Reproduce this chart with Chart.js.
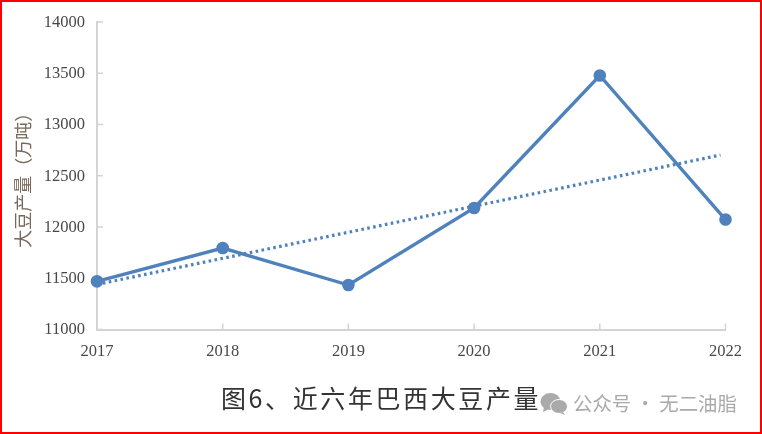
<!DOCTYPE html>
<html><head><meta charset="utf-8">
<script src="https://cdn.jsdelivr.net/npm/chart.js@4"></script>
<style>
html,body{margin:0;padding:0;background:#fff}
#wrap{position:relative;width:762px;height:434px;overflow:hidden}
#frame{position:absolute;inset:0;border:2px solid #f00;box-sizing:border-box;pointer-events:none}
#cap{position:absolute;left:221px;top:381px;font:400 25px "Noto Sans CJK SC";color:#333;letter-spacing:2.6px;white-space:nowrap;line-height:32px}
#wm{position:absolute;left:573px;top:389px;font:400 19.4px "Noto Sans CJK SC";color:#aaa;white-space:nowrap;line-height:28px}
#ic{position:absolute;left:540px;top:392px}
canvas{position:absolute;left:0;top:0}
</style></head><body>
<div id="wrap">
<canvas id="c" width="762" height="434"></canvas>
<div id="cap">图6、近六年巴西大豆产量</div>
<svg id="ic" width="28" height="24" viewBox="0 0 28 24"><ellipse cx="10.5" cy="9.5" rx="10" ry="8.5" fill="#aaa"/><path d="M4 15l-1 5 6-3z" fill="#aaa"/><ellipse cx="19" cy="14.5" rx="8.5" ry="7" fill="#aaa" stroke="#fff" stroke-width="1"/><path d="M23 20l2 3-5-2z" fill="#aaa"/></svg>
<div id="wm">公众号 · 无二油脂</div>
<div id="frame"></div>
</div>
<script>
const years = [2017, 2018, 2019, 2020, 2021, 2022];
const production = [11470, 11795, 11434, 12185, 13478, 12073];
const trendX = [2017, 2021.96];
const trendY = [11440, 12702];
const yTitle = '大豆产量（万吨）';
const blue = '#4f81bd';
Chart.defaults.animation = false;
new Chart(document.getElementById('c'), {
  type: 'line',
  data: { datasets: [
    { data: years.map((x,i)=>({x, y: production[i]})), clip: false, borderColor: blue, backgroundColor: blue, borderWidth: 3.4, pointRadius: 6.3, pointBackgroundColor: blue, pointBorderWidth: 0, tension: 0, order: 1 },
    { data: trendX.map((x,i)=>({x, y: trendY[i]})), clip: false, borderColor: blue, borderWidth: 3.2, borderDash: [2.6,3.4], pointRadius: 0, tension: 0, order: 2 }
  ]},
  options: {
    responsive: false, devicePixelRatio: 1,
    layout: { padding: { left: 0, top: 22, right: 36.5, bottom: 0 } },
    plugins: { legend: { display: false }, tooltip: { enabled: false } },
    scales: {
      x: { type: 'linear', min: 2017, max: 2022, afterFit: s => { s.height = 434 - 329.5; },
        afterBuildTicks: s => { s.ticks = years.map(v => ({value: v})); },
        border: { display: true, color: '#d4d4d4', width: 2 },
        grid: { drawOnChartArea: false, drawTicks: false },
        ticks: { padding: 12, maxRotation: 0, autoSkip: false, font: { family: 'Liberation Serif', size: 16.5 }, color: '#484848', callback: v => String(v) } },
      y: { min: 11000, max: 14000, afterFit: s => { s.width = 97; },
        afterBuildTicks: s => { s.ticks = [11000,11500,12000,12500,13000,13500,14000].map(v => ({value: v})); },
        border: { display: true, color: '#d4d4d4', width: 2 },
        grid: { drawOnChartArea: false, drawTicks: false },
        ticks: { padding: 12, labelOffset: 0.5, autoSkip: false, font: { family: 'Liberation Serif', size: 16.5 }, color: '#484848', callback: v => String(v) },
        title: { display: true, text: yTitle, color: '#76685a', padding: { top: 12, bottom: 0 }, font: { family: 'Noto Sans CJK SC', size: 18 } } }
    }
  },
  plugins: [{ id: 'innerTicks', beforeDatasetsDraw(ch) {
    const {ctx, scales: {x, y}} = ch;
    ctx.save(); ctx.strokeStyle = '#d4d4d4'; ctx.lineWidth = 1.5; ctx.beginPath();
    x.ticks.forEach(t => { const p = x.getPixelForValue(t.value); ctx.moveTo(p, y.bottom); ctx.lineTo(p, y.bottom - 6); });
    y.ticks.forEach(t => { const p = y.getPixelForValue(t.value); ctx.moveTo(x.left, p); ctx.lineTo(x.left + 6, p); });
    ctx.stroke(); ctx.restore();
  }}]
});
</script>
</body></html>
